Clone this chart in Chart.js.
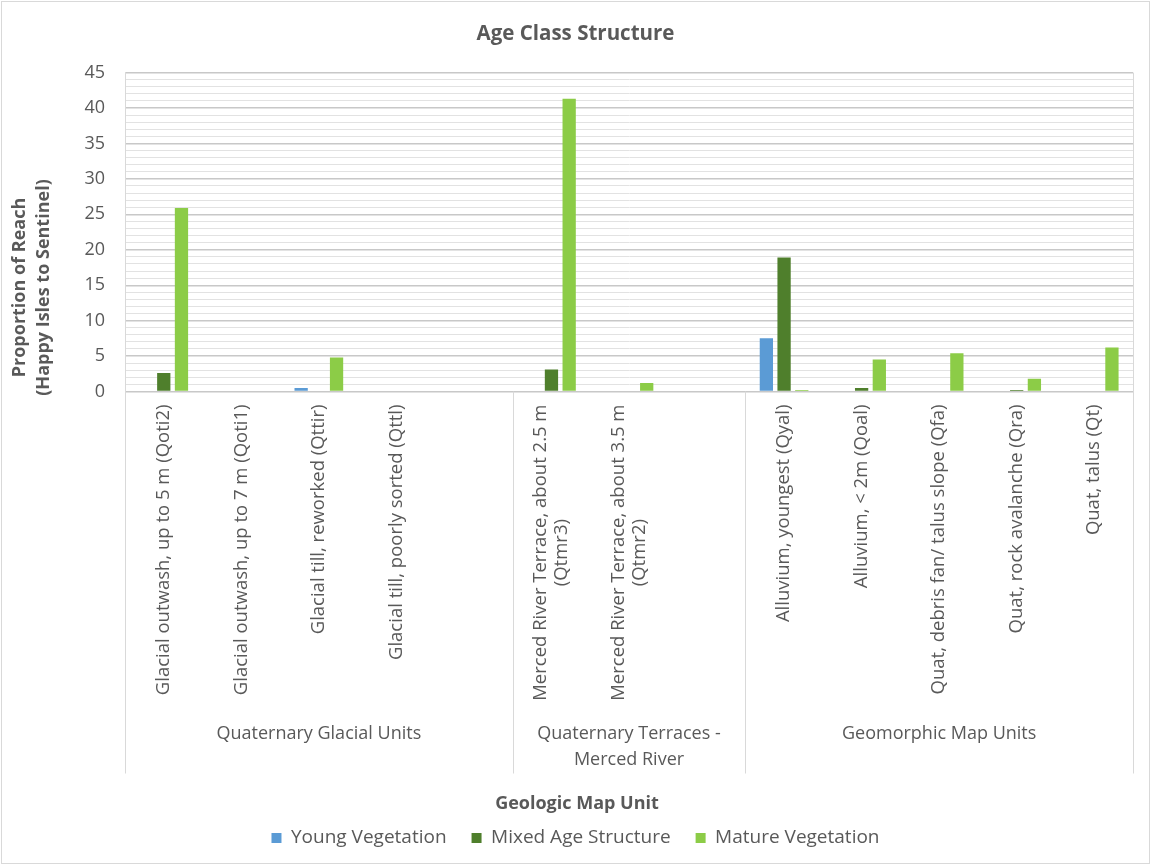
<!DOCTYPE html>
<html lang="en">
<head>
  <meta charset="UTF-8" />
  <title>Age Class Structure</title>
  <script src="https://cdn.jsdelivr.net/npm/chart.js"></script>
  <style>
    html, body { margin: 0; padding: 0; background: #fff; }
    #wrap { position: relative; width: 1151px; height: 865px; }
    #frame { position: absolute; left: 1px; top: 1px; right: 1px; bottom: 1px; border: 1px solid #d9d9d9; pointer-events: none; }
  </style>
</head>
<body>
  <div id="wrap">
    <canvas id="ageChart" width="1151" height="865"></canvas>
    <div id="frame"></div>
  </div>

  <script>
    // Map units along the x axis ('' = spacer slot between unit groups)
    const categories = [
      'Glacial outwash, up to 5 m (Qoti2)',
      'Glacial outwash, up to 7 m (Qoti1)',
      'Glacial till, reworked (Qttir)',
      'Glacial till, poorly sorted (Qttl)',
      '',
      ['Merced River Terrace, about 2.5 m', '(Qtmr3)'],
      ['Merced River Terrace, about 3.5 m', '(Qtmr2)'],
      '',
      'Alluvium, youngest (Qyal)',
      'Alluvium, < 2m (Qoal)',
      'Quat, debris fan/ talus slope (Qfa)',
      'Quat, rock avalanche (Qra)',
      'Quat, talus (Qt)'
    ];
    const groupNames = [['Quaternary Glacial Units'], ['Quaternary Terraces -', 'Merced River'], ['Geomorphic Map Units']];
    const groupSizes = [5, 3, 5];

    const seriesNames = ['Young Vegetation', 'Mixed Age Structure', 'Mature Vegetation'];
    const young  = [0,    0, 0.5, 0, null, 0,    0,   null, 7.5,  0,   0,   0,   0];
    const mixed  = [2.6,  0, 0,   0, null, 3.1,  0,   null, 18.9, 0.5, 0,   0.2, 0];
    const mature = [25.9, 0, 4.8, 0, null, 41.3, 1.2, null, 0.2,  4.5, 5.4, 1.8, 6.2];

    const yTicks = [0, 5, 10, 15, 20, 25, 30, 35, 40, 45];
    const yTitle = ['Proportion of Reach', '(Happy Isles to Sentinel)'];
    const xTitle = 'Geologic Map Unit';

    const textColor = '#595959';
    const lineColor = '#d9d9d9';
    const fontFamily = '"Open Sans", sans-serif';

    // Rotated unit labels, group labels, separators and axis titles
    const categoryAxis = {
      id: 'categoryAxis',
      afterDraw(chart) {
        const { ctx, chartArea, scales: { x } } = chart;
        const labelTop = chartArea.bottom + 13;
        const lineBottom = chartArea.bottom + 382;

        ctx.save();
        ctx.fillStyle = textColor;
        ctx.font = '18.5px ' + fontFamily;
        ctx.textAlign = 'center';
        ctx.textBaseline = 'middle';
        categories.forEach((label, i) => {
          if (!label) return;
          const lines = [].concat(label);
          const maxW = Math.max(...lines.map(l => ctx.measureText(l).width));
          ctx.save();
          ctx.translate(x.getPixelForValue(i), labelTop);
          ctx.rotate(-Math.PI / 2);
          lines.forEach((l, k) => ctx.fillText(l, -maxW / 2, (k - (lines.length - 1) / 2) * 21));
          ctx.restore();
        });

        ctx.strokeStyle = lineColor;
        ctx.lineWidth = 1;
        const vline = (px, y0) => {
          ctx.beginPath();
          ctx.moveTo(Math.round(px) + 0.5, y0);
          ctx.lineTo(Math.round(px) + 0.5, lineBottom);
          ctx.stroke();
        };
        ctx.font = '18px ' + fontFamily;
        let start = 0;
        vline(x.getPixelForValue(-0.5), chartArea.bottom);
        groupSizes.forEach((size, g) => {
          const end = start + size;
          const left = x.getPixelForValue(start - 0.5);
          const right = x.getPixelForValue(end - 0.5);
          vline(right, g === groupSizes.length - 1 ? chartArea.top : chartArea.bottom);
          groupNames[g].forEach((l, k) => ctx.fillText(l, (left + right) / 2, chartArea.bottom + 342 + k * 26));
          start = end;
        });

        ctx.font = 'bold 18px ' + fontFamily;
        ctx.fillText(xTitle, 577, chartArea.bottom + 412);

        ctx.save();
        ctx.translate(32, chartArea.bottom - 104);
        ctx.rotate(-Math.PI / 2);
        yTitle.forEach((l, k) => ctx.fillText(l, 0, (k - 0.5) * 24));
        ctx.restore();
        ctx.restore();
      }
    };

    new Chart(document.getElementById('ageChart'), {
      type: 'bar',
      data: {
        labels: categories,
        datasets: [
          { label: seriesNames[0], data: young,  backgroundColor: '#5b9bd5' },
          { label: seriesNames[1], data: mixed,  backgroundColor: '#4f7f2c' },
          { label: seriesNames[2], data: mature, backgroundColor: '#8ccc47' }
        ]
      },
      options: {
        responsive: false,
        animation: false,
        categoryPercentage: 0.685,
        barPercentage: 0.75,
        layout: { padding: { left: 18, right: 18, top: 0, bottom: 7.6 } },
        plugins: {
          title: {
            display: true,
            text: 'Age Class Structure',
            color: textColor,
            font: { family: fontFamily, size: 20.5, weight: 'bold' },
            padding: { top: 22, bottom: 26 }
          },
          legend: {
            position: 'bottom',
            labels: {
              color: textColor,
              boxWidth: 10,
              boxHeight: 10,
              padding: 25,
              font: { family: fontFamily, size: 19 }
            }
          },
          tooltip: { enabled: false }
        },
        scales: {
          x: {
            ticks: { display: false },
            grid: { display: false },
            border: { display: false },
            afterFit(scale) { scale.height = 411.9; }
          },
          y: {
            min: 0,
            max: 45,
            ticks: {
              stepSize: 1,
              autoSkip: false,
              padding: 20,
              color: textColor,
              font: { family: fontFamily, size: 18 },
              callback: v => (yTicks.includes(v) ? v : '')
            },
            grid: {
              drawTicks: false,
              color: c => (c.tick.value % 5 === 0 ? '#c8c8c8' : '#e2e2e2'),
              lineWidth: c => (c.tick.value % 5 === 0 ? 1.4 : 1)
            },
            border: { display: true, color: lineColor },
            afterFit(scale) { scale.width = 107; }
          }
        }
      },
      plugins: [categoryAxis]
    });
  </script>
</body>
</html>
